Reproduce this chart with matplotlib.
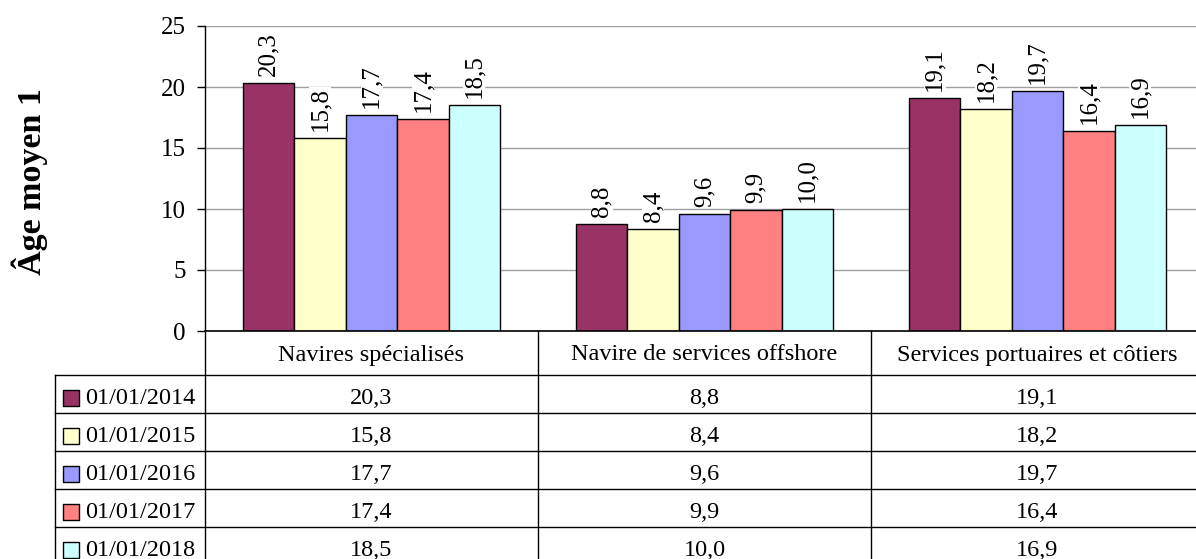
import numpy as np
import matplotlib
matplotlib.use('Agg')
import matplotlib.pyplot as plt

plt.rcParams['font.family'] = ['Liberation Serif', 'DejaVu Serif']

categories = ['Navires spécialisés', 'Navire de services offshore', 'Services portuaires et côtiers']
series = ['01/01/2014', '01/01/2015', '01/01/2016', '01/01/2017', '01/01/2018']
values = [
    [20.3, 8.8, 19.1],
    [15.8, 8.4, 18.2],
    [17.7, 9.6, 19.7],
    [17.4, 9.9, 16.4],
    [18.5, 10.0, 16.9],
]
colors = ['#993366', '#FFFFCC', '#9999FF', '#FF8080', '#CCFFFF']
yticks = [0, 5, 10, 15, 20, 25]

def fr(v):
    return '{:.1f}'.format(v).replace('.', ',')

W, H = 1196, 559
fig = plt.figure(figsize=(W / 100, H / 100), dpi=100)

# chart area (right edge runs past the picture, like the original crop)
x0, x1, ytop, ybot = 205, 1204, 26, 331
ax = fig.add_axes([x0 / W, 1 - ybot / H, (x1 - x0) / W, (ybot - ytop) / H])
bw = 0.1543
n = len(series)
for i, s in enumerate(series):
    xs = np.arange(len(categories)) + 0.5 + (i - (n - 1) / 2) * bw
    ax.bar(xs, values[i], bw, color=colors[i], edgecolor='black', linewidth=1, zorder=3)
    for x, v in zip(xs, values[i]):
        ax.annotate(fr(v), (x, v), xytext=(0, 5), textcoords='offset points',
                    rotation=90, ha='center', va='bottom', fontsize=18, zorder=4,
                    bbox=dict(facecolor='white', edgecolor='none', pad=0))
ax.set_xlim(0, 3)
ax.set_ylim(0, 25)
ax.set_yticks(yticks)
ax.set_yticklabels([str(t) for t in yticks], fontsize=18)
ax.yaxis.grid(True, color='#a0a0a0', linewidth=1, zorder=0)
ax.set_xticks([])
for sp in ['top', 'right', 'bottom']:
    ax.spines[sp].set_visible(False)
ax.spines['left'].set_linewidth(1)
ax.tick_params(axis='y', length=6, width=1, pad=8)
ax.axhline(0, color='black', lw=1.2, zorder=5, clip_on=False)

fig.text(30 / W, 1 - 182 / H, 'Âge moyen 1', rotation=90, fontsize=24.5,
         fontweight='bold', ha='center', va='center')

# data table under the chart
lx = 55
tab = fig.add_axes([lx / W, 1 - 565 / H, (x1 - lx) / W, (565 - ybot) / H])
legw = (x0 - lx) / ((x1 - x0) / 3)
tab.set_xlim(-legw, 3)
tab.set_ylim(234, 0)
tab.axis('off')
hdr = 44
rh = 38
lk = dict(color='black', lw=1, clip_on=False)
for c in range(4):
    tab.plot([c, c], [0, 234], **lk)
tab.plot([-legw, -legw], [hdr, 234], **lk)
for r in range(len(series) + 1):
    y = hdr + r * rh
    tab.plot([-legw, 3], [y, y], **lk)
for j, cat in enumerate(categories):
    tab.text(j + 0.5, hdr / 2 + 2, cat, ha='center', va='center', fontsize=17.5)
for i, s in enumerate(series):
    yc = hdr + i * rh + rh / 2 + 5
    tab.scatter([-legw + 0.047], [yc - 1.5], s=120, marker='s', color=colors[i],
                edgecolor='black', linewidth=1, clip_on=False, zorder=3)
    tab.text(-legw + 0.09, yc, s, ha='left', va='center', fontsize=17.5)
    for j in range(len(categories)):
        tab.text(j + 0.5, yc, fr(values[i][j]), ha='center', va='center', fontsize=17.5)

plt.savefig('out.png', dpi=100)
